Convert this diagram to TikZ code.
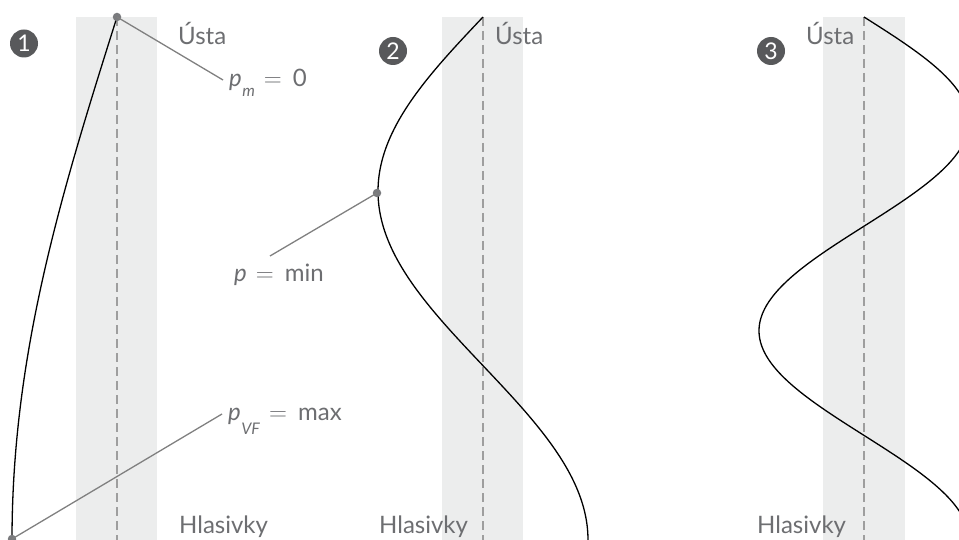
\documentclass[tikz,border=0pt]{standalone}
\usepackage{fontspec}
\setmainfont{Lato}
\definecolor{band}{HTML}{ECEDED}
\definecolor{guide}{HTML}{9E9E9E}
\definecolor{labelgray}{HTML}{6D6E71}
\definecolor{leader}{HTML}{808080}
\definecolor{badgefill}{HTML}{58595B}
\definecolor{dotgray}{HTML}{7A7B7E}
\tikzset{
  tube/.style={fill=band, draw=none},
  axisline/.style={guide, line width=1.2pt, dash pattern=on 9pt off 5pt},
  wave/.style={black, line width=1.3pt},
  leaderline/.style={leader, line width=1.3pt},
  probe/.style={circle, fill=dotgray, inner sep=0pt, minimum size=8.5pt},
  lbl/.style={text=labelgray, inner sep=0pt, anchor=base west, font=\fontsize{24}{28}\selectfont},
  badge/.style={circle, fill=badgefill, text=white, inner sep=0pt, minimum size=28pt, font=\fontsize{23}{23}\selectfont}
}
% italic p with a small, deeply lowered subscript
\newcommand{\psub}[2]{\textit{p}\hspace{0.5pt}\raisebox{-#2}{\fontsize{16}{16}\selectfont\textit{#1}}}
\newcommand{\eqsign}{\hspace{9pt}$=$\hspace{11pt}}
\begin{document}
\begin{tikzpicture}[x=1pt, y=-1pt]
  \useasboundingbox (0,0) rectangle (959,540);
  \clip (0,0) rectangle (959,540);

  % tube sections
  \fill[tube] (76,17) rectangle (157,540);
  \fill[tube] (442,17) rectangle (523,540);
  \fill[tube] (823,17) rectangle (905,540);

  % centre lines
  \draw[axisline] (117,17) -- (117,540);
  \draw[axisline] (483,17) -- (483,540);
  \draw[axisline] (864,17) -- (864,540);

  % standing waves: quarter, three quarters, five quarters
  \draw[wave] plot[domain=17:540, samples=120] ({117-105*cos((540-\x)/523*90)}, \x);
  \draw[wave] plot[domain=17:540, samples=160] ({483+105*cos((540-\x)/523*270)}, \x);
  \draw[wave] plot[domain=17:540, samples=220] ({864+105*cos((540-\x)/523*450)}, \x);

  % badges
  \node[badge] (b1) at (24,43.5) {1};
  \node[badge] (b2) at (393,51) {2};
  \node[badge] (b3) at (771,51) {3};

  % labels
  \node[lbl] (usta1) at (178,45) {Ústa};
  \node[lbl] (usta2) at (495,45) {Ústa};
  \node[lbl] (usta3) at (806,45) {Ústa};
  \node[lbl] (hl1) at (179,533) {Hlasivky};
  \node[lbl] (hl2) at (379,533) {Hlasivky};
  \node[lbl] (hl3) at (757,533) {Hlasivky};
  \node[lbl] (pm) at (229,87) {\psub{m}{10pt}\eqsign 0};
  \node[lbl] (pmin) at (234,282) {\textit{p}\eqsign min};
  \node[lbl] (pvf) at (228,420) {\psub{VF}{14pt}\eqsign max};

  % probe points and leaders
  \node[probe] (mouth) at (117,17) {};
  \node[probe] (trough) at (377,193) {};
  \node[probe] (glottis) at (12,539) {};
  \coordinate (pmEnd) at (223,80);
  \coordinate (pminEnd) at (270,256);
  \coordinate (pvfEnd) at (222,414);
  \draw[leaderline] (mouth.center) -- (pmEnd);
  \draw[leaderline] (trough.center) -- (pminEnd);
  \draw[leaderline] (glottis.center) -- (pvfEnd);
\end{tikzpicture}
\end{document}
